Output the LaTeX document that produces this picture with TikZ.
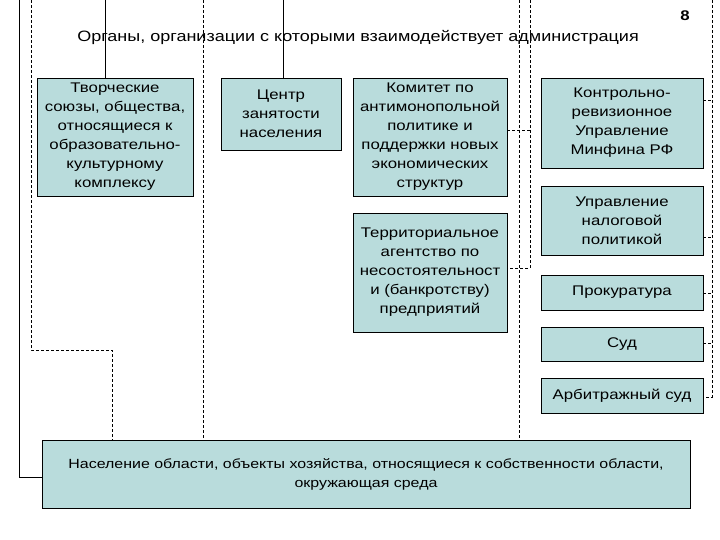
\documentclass[tikz,border=0pt]{standalone}
\usepackage{fontspec}
\setmainfont{Liberation Sans}[FakeStretch=1.2]
\begin{document}
\begin{tikzpicture}[x=1pt,y=-1pt,
  bx/.style={draw=black,fill={rgb,255:red,185;green,220;blue,220},align=center,inner sep=0pt,font=\fontsize{14}{19}\selectfont},
  dl/.style={draw,dashed,dash pattern=on 3pt off 2pt},
  sl/.style={draw}]
\useasboundingbox (0,0) rectangle (720,540);
\node[bx,minimum width=156pt,minimum height=118pt] (tv) at (115,137) {Творческие\\союзы, общества,\\относящиеся к\\образовательно-\\культурному\\комплексу};
\node[bx,minimum width=120pt,minimum height=72pt] (cz) at (281,114) {Центр\\занятости\\населения};
\node[bx,minimum width=154pt,minimum height=118pt] (km) at (430,137) {Комитет по\\антимонопольной\\политике и\\поддержки новых\\экономических\\структур};
\node[bx,minimum width=154pt,minimum height=119pt] (ta) at (430,272.5) {Территориальное\\агентство по\\несостоятельност\\и (банкротству)\\предприятий};
\node[bx,minimum width=162pt,minimum height=90pt] (kr) at (622,123) {Контрольно-\\ревизионное\\Управление\\Минфина РФ};
\node[bx,minimum width=162pt,minimum height=69pt] (un) at (622,220.5) {Управление\\налоговой\\политикой};
\node[bx,minimum width=162pt,minimum height=35pt] (pr) at (622,292.5) {Прокуратура};
\node[bx,minimum width=162pt,minimum height=34pt] (sd) at (622,344) {Суд};
\node[bx,minimum width=162pt,minimum height=35pt] (as) at (622,395.5) {Арбитражный суд};
\node[bx,minimum width=648pt,minimum height=68pt,font=\fontsize{13.3}{19}\selectfont] (pop) at (366,474) {Население области, объекты хозяйства, относящиеся к собственности области,\\окружающая среда};
\node[font=\fontsize{15}{17}\selectfont] (title) at (358,37) {Органы, организации с которыми взаимодействует администрация};
\node[font=\bfseries\fontsize{14}{15}\selectfont] (num) at (685,16) {8};
% connectors
\coordinate (t1) at (19,0); \coordinate (c1) at (19,477);
\draw[sl] (t1) -- (c1) -- (pop.west |- c1);
\coordinate (t2) at (31,0); \coordinate (c2) at (31,350); \coordinate (c3) at (112,350);
\draw[dl] (t2) -- (c2) -- (c3) -- (c3 |- pop.north);
\coordinate (t3) at (203,0); \draw[dl] (t3) -- (t3 |- pop.north);
\coordinate (t4) at (105,0); \draw[sl] (t4) -- (t4 |- tv.north);
\coordinate (t5) at (283,0); \draw[sl] (t5) -- (t5 |- cz.north);
\coordinate (t6) at (519,0); \draw[dl] (t6) -- (t6 |- pop.north);
\coordinate (t7) at (530,0); \coordinate (c7) at (530,268);
\draw[dl] (t7) -- (c7) -- (ta.east |- c7);
\coordinate (c8) at (530,130); \draw[dl] (km.east |- c8) -- (c8);
\coordinate (t9) at (712,0); \coordinate (c9) at (712,397);
\draw[dl] (t9) -- (c9) -- (as.east |- c9);
\foreach \n/\yy in {kr/100,un/237,pr/293,sd/343}{
  \coordinate (e\n) at (712,\yy); \draw[dl] (\n.east |- e\n) -- (e\n);}
\end{tikzpicture}
\end{document}
